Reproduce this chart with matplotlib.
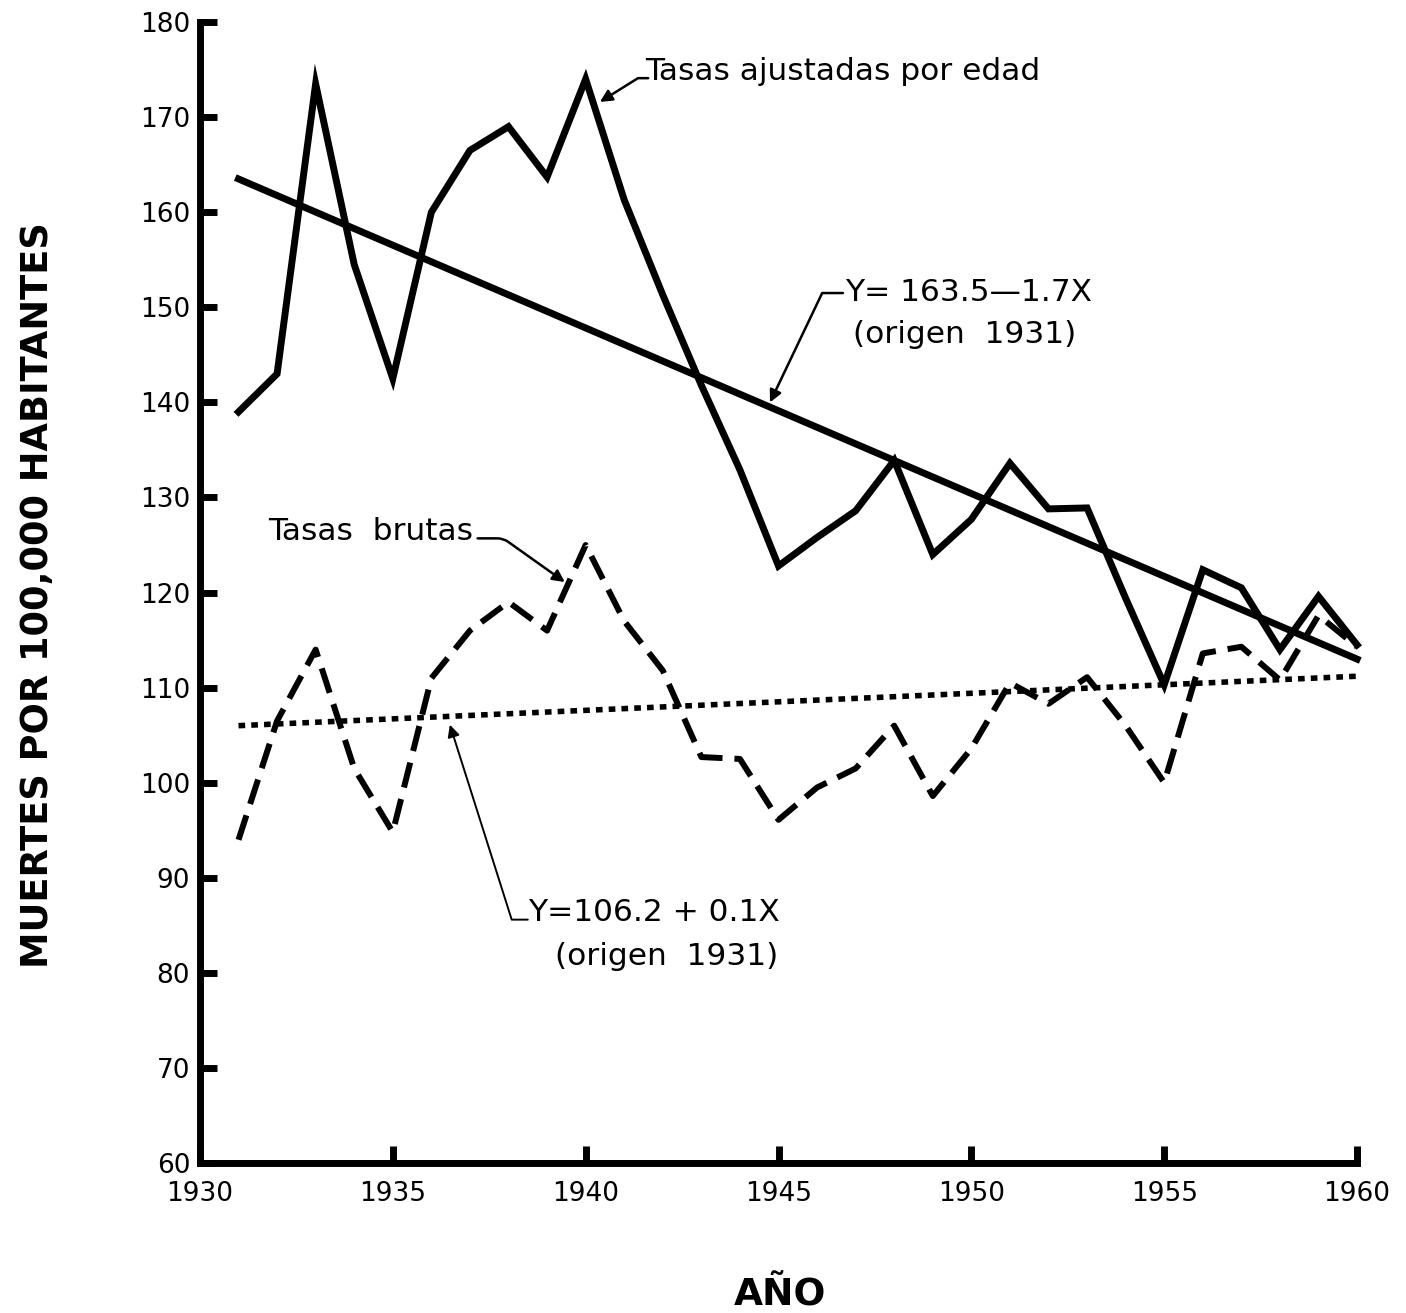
import matplotlib
matplotlib.use('Agg')
import matplotlib.pyplot as plt

# Datos (muertes por 100,000 habitantes)
anos = [1931, 1932, 1933, 1934, 1935, 1936, 1937, 1938, 1939, 1940,
        1941, 1942, 1943, 1944, 1945, 1946, 1947, 1948, 1949, 1950,
        1951, 1952, 1953, 1954, 1955, 1956, 1957, 1958, 1959, 1960]

tasas_ajustadas = [139, 143, 173.5, 154.5, 142.5, 160, 166.5, 169, 163.7, 174,
                   161.3, 151.3, 141.8, 132.9, 122.8, 125.8, 128.6, 133.9, 124, 127.7,
                   133.6, 128.8, 128.9, 119.4, 110.3, 122.4, 120.5, 114, 119.6, 114.5]

tasas_brutas = [94, 106.5, 114, 101.5, 94.8, 111, 116, 119, 116, 125,
                117, 111.8, 102.7, 102.5, 96.1, 99.5, 101.5, 106, 98.6, 103.6,
                110.5, 108.3, 111.1, 106, 100, 113.6, 114.3, 110.8, 117.6, 114.3]

# Rectas de tendencia (extremos)
tendencia_anos = [1931, 1960]
tendencia_ajustadas = [163.5, 113.0]
tendencia_brutas = [106.0, 111.2]

ticks_x = [1930, 1935, 1940, 1945, 1950, 1955, 1960]
ticks_y = list(range(60, 181, 10))


def plotar_grafico():
    fig = plt.figure(figsize=(14.06, 13.13), dpi=100)
    ax = fig.add_axes([0.1422, 0.1142, 0.823, 0.869])

    ax.plot(anos, tasas_ajustadas, color='black', lw=5, solid_joinstyle='miter', clip_on=False)
    ax.plot(anos, tasas_brutas, color='black', lw=4.3, dashes=(4.3, 2), clip_on=False)
    ax.plot(tendencia_anos, tendencia_ajustadas, color='black', lw=5, clip_on=False)
    ax.plot(tendencia_anos, tendencia_brutas, color='black', lw=4, dashes=(1.2, 1.1), clip_on=False)

    ax.set_xlim(1930, 1960)
    ax.set_ylim(60, 180)
    ax.set_xticks(ticks_x)
    ax.set_yticks(ticks_y)
    ax.tick_params(direction='in', length=12, width=5, labelsize=19, colors='black')
    ax.tick_params(axis='x', pad=13)
    ax.tick_params(axis='y', pad=7)
    for s in ['top', 'right']:
        ax.spines[s].set_visible(False)
    for s in ['left', 'bottom']:
        ax.spines[s].set_linewidth(5)

    # Anotaciones con líneas guía
    flecha = dict(arrowstyle='-|>', color='black', lw=1.8, shrinkA=0, shrinkB=0,
                  mutation_scale=18)
    tam = 22.5

    ax.text(1941.54, 174.75, 'Tasas ajustadas por edad', fontsize=tam, ha='left', va='center')
    ax.annotate('', xy=(1940.37, 171.6), xytext=(1941.62, 174.1),
                arrowprops=dict(flecha, connectionstyle='angle,angleA=0,angleB=32,rad=0'))

    ax.text(1946.72, 151.6, 'Y= 163.5\u20141.7X', fontsize=tam, ha='left', va='center')
    ax.text(1946.93, 147.1, '(origen  1931)', fontsize=tam, ha='left', va='center')
    ax.annotate('', xy=(1944.78, 140.0), xytext=(1946.67, 151.5),
                arrowprops=dict(flecha, connectionstyle='angle,angleA=0,angleB=64.5,rad=0'))

    ax.text(1931.76, 126.4, 'Tasas  brutas', fontsize=tam, ha='left', va='center')
    ax.annotate('', xy=(1939.46, 121.1), xytext=(1937.2, 125.7),
                arrowprops=dict(flecha, connectionstyle='angle,angleA=0,angleB=144.6,rad=6'))

    ax.text(1938.5, 86.3, 'Y=106.2 + 0.1X', fontsize=tam, ha='left', va='center')
    ax.text(1939.2, 81.7, '(origen  1931)', fontsize=tam, ha='left', va='center')
    ax.annotate('', xy=(1936.48, 106.1), xytext=(1938.5, 85.6),
                arrowprops=dict(flecha, lw=1.4, connectionstyle='angle,angleA=0,angleB=-72.4,rad=0'))

    fig.text(0.027, 0.547, 'MUERTES POR 100,000 HABITANTES', rotation=90,
             fontsize=26.5, fontweight='bold', ha='center', va='center')
    fig.text(0.555, 0.0137, 'AÑO', fontsize=27, fontweight='bold', ha='center', va='center')

    fig.savefig('out.png', dpi=100, facecolor='white')


def main():
    plotar_grafico()


if __name__ == "__main__":
    main()
